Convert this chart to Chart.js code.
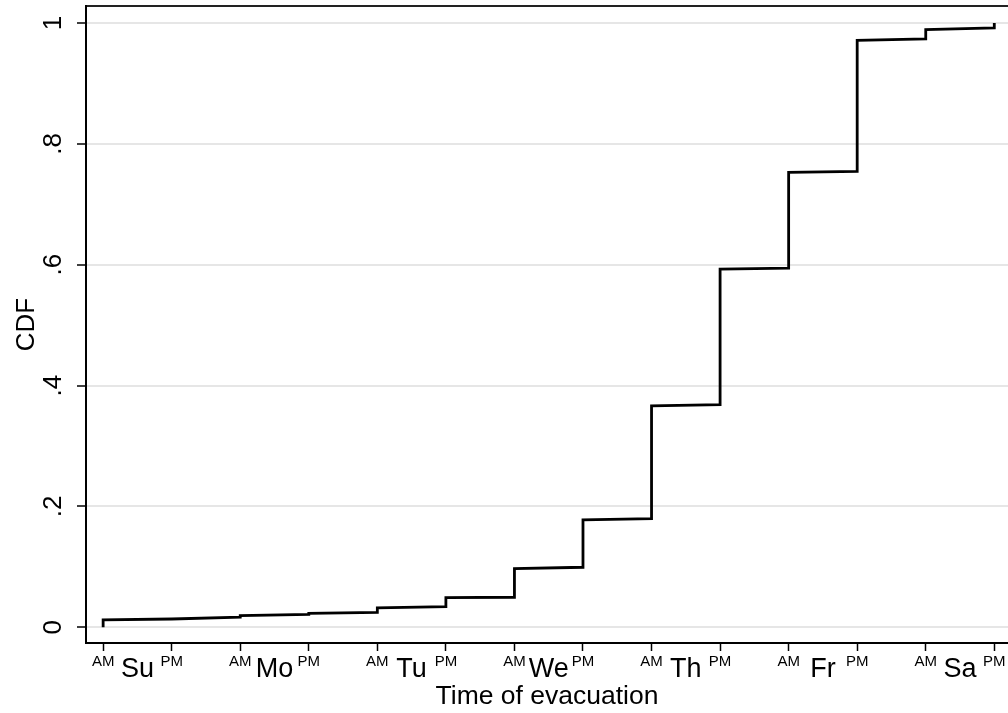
<!DOCTYPE html>
<html>
<head>
<meta charset="utf-8">
<script src="https://cdn.jsdelivr.net/npm/chart.js@4.4.1/dist/chart.umd.min.js"></script>
<style>
  html, body { margin: 0; padding: 0; background: #ffffff; }
  #wrap { width: 1008px; height: 713px; }
</style>
</head>
<body>
<div id="wrap"><canvas id="c" width="1008" height="713"></canvas></div>
<script>
// Half-day boundaries (0 = Sunday AM, 1 = Sunday PM, ... 13 = Saturday PM)
const halfDays = [0, 1, 2, 3, 4, 5, 6, 7, 8, 9, 10, 11, 12, 13];
// CDF value just before and just after each half-day boundary
const cdfBefore = [0, 0.0137, 0.0166, 0.0215, 0.0248, 0.0341, 0.0497, 0.0993, 0.1798, 0.3685, 0.5944, 0.7543, 0.9735, 0.9917];
const cdfAfter  = [0.0121, 0.0137, 0.0192, 0.0232, 0.0320, 0.0490, 0.0970, 0.1776, 0.3664, 0.5927, 0.7526, 0.9712, 0.9889, 1.0];

// Tick labels
const dayLabels = ['Su', 'Mo', 'Tu', 'We', 'Th', 'Fr', 'Sa'];
const halfLabels = ['AM', 'PM'];
const yTickValues = [0, 0.2, 0.4, 0.6, 0.8, 1];
const yTickLabels = ['0', '.2', '.4', '.6', '.8', '1'];

const xTitle = 'Time of evacuation';
const yTitle = 'CDF';

// Build step points
const points = [];
halfDays.forEach((h, i) => {
  points.push({ x: h, y: cdfBefore[i] });
  points.push({ x: h, y: cdfAfter[i] });
});

// x ticks: every half-day boundary (AM/PM) plus mid-day (day name)
const xTickValues = [];
halfDays.forEach(h => {
  xTickValues.push(h);
  if (h % 2 === 0) xTickValues.push(h + 0.5);
});
xTickValues.sort((a, b) => a - b);

const FONT = "'Liberation Sans', Arial, Helvetica, sans-serif";

function zeroPad(s) { s.paddingTop = 0; s.paddingBottom = 0; s.paddingLeft = 0; s.paddingRight = 0; }

new Chart(document.getElementById('c'), {
  type: 'line',
  data: {
    datasets: [{
      data: points,
      borderColor: '#000000',
      borderWidth: 2.8,
      pointRadius: 0,
      fill: false,
      tension: 0
    }]
  },
  options: {
    responsive: false,
    animation: false,
    devicePixelRatio: 1,
    layout: { padding: 0 },
    plugins: { legend: { display: false }, tooltip: { enabled: false } },
    scales: {
      x: {
        type: 'linear',
        position: 'bottom',
        min: -0.25,
        max: 13.2,
        afterBuildTicks: s => { s.ticks = xTickValues.map(v => ({ value: v })); },
        afterFit: s => { s.height = 70; zeroPad(s); },
        grid: {
          display: true,
          drawOnChartArea: false,
          drawTicks: true,
          tickLength: 8,
          tickWidth: 1.5,
          tickColor: ctx => (ctx.tick && Number.isInteger(ctx.tick.value)) ? '#000000' : 'rgba(0,0,0,0)'
        },
        border: { display: true, color: '#000000', width: 2 },
        ticks: {
          autoSkip: false,
          maxRotation: 0,
          minRotation: 0,
          padding: 2,
          color: '#000000',
          font: ctx => ({ family: FONT, size: (ctx.tick && Number.isInteger(ctx.tick.value)) ? 15 : 27 }),
          callback: v => Number.isInteger(v) ? halfLabels[v % 2] : dayLabels[Math.floor(v / 2)]
        },
        title: {
          display: true,
          text: xTitle,
          color: '#000000',
          font: { family: FONT, size: 26.5, lineHeight: 1.2 },
          padding: { top: 0, bottom: 0 }
        }
      },
      x2: {
        type: 'linear',
        position: 'top',
        display: true,
        afterFit: s => { s.height = 6; zeroPad(s); },
        grid: { display: false, drawTicks: false },
        ticks: { display: false },
        border: { display: true, color: '#222222', width: 2 }
      },
      y: {
        type: 'linear',
        position: 'left',
        min: -0.026,
        max: 1.028,
        afterBuildTicks: s => { s.ticks = yTickValues.map(v => ({ value: v })); },
        afterFit: s => { s.width = 86; zeroPad(s); },
        grid: {
          display: true,
          drawOnChartArea: true,
          drawTicks: true,
          color: '#e6e6e6',
          lineWidth: 2,
          tickLength: 9,
          tickWidth: 1.5,
          tickColor: '#000000'
        },
        border: { display: true, color: '#000000', width: 2 },
        ticks: {
          autoSkip: false,
          minRotation: 90,
          maxRotation: 90,
          crossAlign: 'center',
          padding: 12,
          color: '#000000',
          font: { family: FONT, size: 26 },
          callback: (v, i) => yTickLabels[i]
        },
        title: {
          display: true,
          text: yTitle,
          color: '#000000',
          font: { family: FONT, size: 26, lineHeight: 1.2 },
          padding: { top: 11, bottom: 0 }
        }
      }
    }
  }
});
</script>
</body>
</html>
